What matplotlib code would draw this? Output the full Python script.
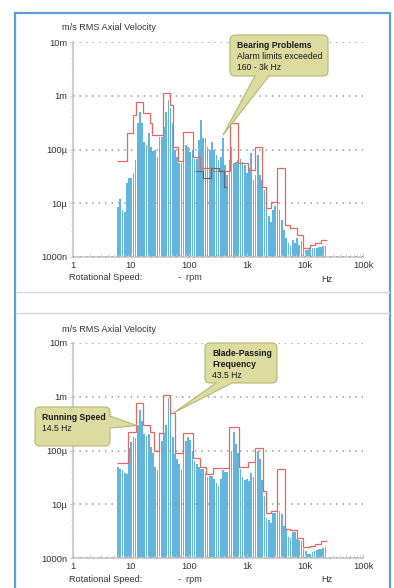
import numpy as np
import matplotlib
matplotlib.use('Agg')
import matplotlib.pyplot as plt
from matplotlib.patches import FancyBboxPatch, Polygon
from matplotlib.ticker import FixedLocator, NullFormatter, LogLocator

plt.rcParams['font.family'] = ['Liberation Sans', 'DejaVu Sans']

# band centres (Hz), 1/8 octave bands starting at 6 Hz
band_f = 6.0 * 2 ** (np.arange(96) / 8.0)

# bar levels in um/s
top_bars = [8.5, 12, 7.5, 7, 24, 30, 30, 37, 64, 311,
            500, 311, 138, 120, 203, 111, 95, 98, 72, 170,
            170, 262, 500, 834, 600, 311, 98, 72, 56, 56,
            138, 120, 111, 90, 98, 68, 68, 150, 354, 164,
            164, 111, 98, 138, 98, 79, 64, 72, 164, 51,
            34, 64, 111, 56, 58, 64, 68, 58, 51, 37,
            45, 86, 27, 34, 79, 34, 27, 18, 9, 5.8,
            4.5, 7.5, 9, 13, 7.5, 4.9, 3.2, 2.3, 1.8, 1.6,
            2.1, 1.8, 2.3, 1.7, 2.0, 1.45, 1.35, 1.35, 1.4, 1.45,
            1.5, 1.5, 1.55, 1.55, 1.6, 1.6]
bot_bars = [49, 45, 43, 38, 37, 110, 145, 178, 170, 300,
            570, 360, 200, 190, 200, 115, 90, 50, 43, 140,
            150, 210, 300, 950, 480, 178, 85, 70, 56, 43,
            140, 150, 178, 160, 100, 64, 55, 49, 46, 45,
            38, 32, 33, 33, 30, 25, 22, 30, 43, 40,
            40, 64, 100, 220, 130, 90, 45, 32, 28, 30,
            27, 38, 32, 64, 100, 70, 28, 14, 5.5, 5,
            4.5, 7, 7, 9, 7.5, 6.5, 4, 3.3, 2.5, 2.4,
            3.0, 3.0, 2.3, 2.2, 2.1, 1.5, 1.35, 1.2, 1.2, 1.3,
            1.35, 1.4, 1.45, 1.5, 1.55, 1.6]

# alarm limit steps (band edges in Hz, level in um/s)
top_lim_edges = [5.7, 8.5, 10.8, 12.2, 16.1, 21.3, 23, 36, 47, 53, 65, 79, 117, 155, 259,
                 509, 700, 1040, 1375, 1815, 2130, 2590, 3290, 4520, 5510, 7280, 9240,
                 12200, 15000, 19000, 24000]
top_lim = [60, 203, 438, 770, 470, 311, 190, 1130, 670, 111, 60, 210, 72, 45, 40,
           311, 56, 42, 111, 20, 8, 10.5, 45, 3.9, 3.5, 2.6, 1.5, 1.65, 1.85, 2.1]
bot_lim_edges = [5.7, 9.0, 12.2, 16.1, 21.3, 25, 30, 36, 47, 57, 79, 115, 155, 200, 260,
                 480, 720, 1040, 1375, 1900, 2130, 2590, 3290, 4520, 5510, 7280, 9240,
                 12200, 15000, 19000, 24000]
bot_lim = [58, 220, 770, 300, 220, 100, 210, 1080, 500, 90, 210, 72, 50, 36, 48,
           270, 50, 60, 110, 18, 7, 7.5, 45, 3.5, 3.3, 2.4, 1.6, 1.65, 1.85, 2.1]
# dark step (top panel only)
dark_edges = [127, 175, 240, 330, 400, 450]
dark_vals = [40, 30, 45, 40, 20]

y_ticks = [1, 10, 100, 1000, 10000]
y_labels = ['1000n', '10\u00b5', '100\u00b5', '1m', '10m']
x_ticks = [1, 10, 100, 1e3, 1e4, 1e5]
x_labels = ['1', '10', '100', '1k', '10k', '100k']

BAR = '#62b6dd'
RED = '#e06a62'
DARK = '#6c6470'
AXC = '#c8c8c8'
TXT = '#333333'
BLUE = '#5d9fd3'
BOX = '#dcdba0'
BOX_EDGE = '#bab671'

W, H = 394, 588
fig = plt.figure(figsize=(W / 100, H / 100), dpi=100)


def draw_panel(ax, bars, lim_edges, lim_vals):
    ax.set_xscale('log')
    ax.set_yscale('log')
    lo = band_f * 2 ** (-0.38 / 8)
    hi = band_f * 2 ** (0.38 / 8)
    ax.bar(lo, np.array(bars) - 1, width=hi - lo, bottom=1, align='edge',
           color=BAR, lw=0, zorder=2)
    ax.stairs(lim_vals, lim_edges, color=RED, lw=0.9, baseline=None, zorder=3)
    ax.set_xlim(1, 1e5)
    ax.set_ylim(1, 1e4)
    ax.set_axisbelow(False)
    ax.yaxis.set_major_locator(FixedLocator(y_ticks))
    ax.set_yticklabels(y_labels)
    ax.xaxis.set_major_locator(FixedLocator(x_ticks))
    ax.set_xticklabels(x_labels)
    ax.xaxis.set_minor_locator(LogLocator(base=10, subs=np.arange(2, 10)))
    ax.yaxis.set_minor_locator(LogLocator(base=10, subs=np.arange(2, 10)))
    ax.xaxis.set_minor_formatter(NullFormatter())
    ax.yaxis.set_minor_formatter(NullFormatter())
    ax.grid(True, axis='y', which='major', color='#9a9a9a', linestyle=(0, (1, 3.2)), lw=1.1)
    for s in ['top', 'right']:
        ax.spines[s].set_visible(False)
    for s in ['left', 'bottom']:
        ax.spines[s].set_color(AXC)
        ax.spines[s].set_linewidth(1.2)
    ax.tick_params(axis='y', which='major', length=2.5, pad=1.8, color=AXC, labelsize=6.7, labelcolor=TXT)
    ax.tick_params(axis='y', which='minor', length=1.8, color=AXC)
    ax.tick_params(axis='x', which='major', direction='in', length=3, pad=3, color=AXC, labelsize=6.7, labelcolor=TXT)
    ax.tick_params(axis='x', which='minor', direction='in', length=2, color=AXC)
    ax.patch.set_alpha(0)


# panel positions in pixels: x 73..363, y 42..257 and 343..558
ax1 = fig.add_axes([73 / W, 1 - 257 / H, 290 / W, 215 / H])
ax2 = fig.add_axes([73 / W, 1 - 558 / H, 290 / W, 215 / H])
draw_panel(ax1, top_bars, top_lim_edges, top_lim)
ax1.stairs(dark_vals, dark_edges, color=DARK, lw=0.9, baseline=None, zorder=3)
draw_panel(ax2, bot_bars, bot_lim_edges, bot_lim)

# overlay in pixel coords for frame, captions and callouts
ov = fig.add_axes([0, 0, 1, 1], zorder=5)
ov.set_xlim(0, W)
ov.set_ylim(H, 0)
ov.set_axis_off()

ov.plot([15, 15], [13, H], color=BLUE, lw=1.6, solid_capstyle='butt')
ov.plot([390, 390], [13, H], color=BLUE, lw=1.6, solid_capstyle='butt')
ov.plot([15, 390], [13, 13], color=BLUE, lw=1.6, solid_capstyle='projecting')
ov.plot([16, 389], [292, 292], color='#d6d6d6', lw=1)
ov.plot([16, 389], [313, 313], color='#d6d6d6', lw=1)

for dy in [0, 301]:
    ov.text(62, 28 + dy, 'm/s RMS Axial Velocity', fontsize=6.6, color=TXT, va='center', ha='left')
    ov.text(69, 278 + dy, 'Rotational Speed:', fontsize=6.6, color=TXT, va='center', ha='left')
    ov.text(178, 278 + dy, '-  rpm', fontsize=6.6, color=TXT, va='center', ha='left')
    ov.text(327, 279 + dy, 'Hz', fontsize=6.6, color=TXT, va='center', ha='center')


def to_px(ax, x, y):
    d = ax.transData.transform((x, y))
    return d[0], H - d[1]


def callout(x0, y0, x1, y1, b0, b1, tip, lines):
    tail = Polygon([b0, tip, b1], closed=True, fc=BOX, ec=BOX_EDGE, lw=0.8, zorder=2)
    ov.add_patch(tail)
    box = FancyBboxPatch((x0, y0), x1 - x0, y1 - y0, boxstyle='round,pad=0,rounding_size=5',
                         fc=BOX, ec=BOX_EDGE, lw=0.8, zorder=3)
    ov.add_patch(box)
    # hide the box border where the tail joins
    b0 = np.array(b0, float)
    b1 = np.array(b1, float)
    t = np.array(tip, float)
    m = (b0 + b1) / 2
    d = (t - m) / np.linalg.norm(t - m)
    c0 = b0 + (b1 - b0) * 0.06
    c1 = b1 + (b0 - b1) * 0.06
    cover = Polygon([c0 - d * 2, c0 + (t - c0) * 0.07, c1 + (t - c1) * 0.07, c1 - d * 2],
                    closed=True, fc=BOX, ec='none', zorder=4)
    ov.add_patch(cover)
    yy = y0 + 11
    for txt, bold in lines:
        ov.text(x0 + 7, yy, txt, fontsize=6.2, color='#1a1a1a', va='center', ha='left',
                fontweight='bold' if bold else 'normal', zorder=5)
        yy += 10.5


callout(230, 35, 328, 76, (255, 76), (269, 76), to_px(ax1, 385, 185),
        [('Bearing Problems', True), ('Alarm limits exceeded', False), ('160 - 3k Hz', False)])
callout(35, 407, 110, 446, (110, 416), (110, 428), to_px(ax2, 12.8, 290),
        [('Running Speed', True), ('14.5 Hz', False)])
callout(205, 343, 277, 383, (216, 383), (232, 383), to_px(ax2, 54, 500),
        [('Blade-Passing', True), ('Frequency', True), ('43.5 Hz', False)])

fig.savefig('out.png', dpi=100)
